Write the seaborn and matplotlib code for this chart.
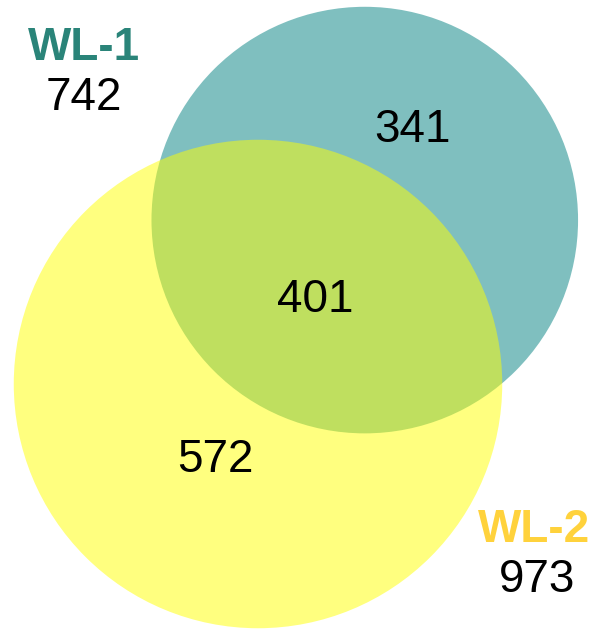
import numpy as np
import seaborn as sns
import matplotlib
import matplotlib.pyplot as plt
from matplotlib.patches import Circle
plt.switch_backend('agg')

set_names = ['WL-1', 'WL-2']
set_sizes = [742, 973]
shared = 401
set_colors = ['#008080', '#ffff00']
label_colors = ['#2a8479', '#ffd23c']


def lens_area(r1, r2, d):
    if d >= r1 + r2:
        return 0.0
    if d <= abs(r1 - r2):
        return np.pi * min(r1, r2) ** 2
    a1 = (d * d + r1 * r1 - r2 * r2) / (2 * d)
    a2 = d - a1
    s1 = r1 * r1 * np.arccos(a1 / r1) - a1 * np.sqrt(r1 * r1 - a1 * a1)
    s2 = r2 * r2 * np.arccos(a2 / r2) - a2 * np.sqrt(r2 * r2 - a2 * a2)
    return s1 + s2


def solve_distance(r1, r2, target):
    lo, hi = abs(r1 - r2), r1 + r2
    for _ in range(80):
        mid = (lo + hi) / 2
        if lens_area(r1, r2, mid) > target:
            lo = mid
        else:
            hi = mid
    return (lo + hi) / 2


def makeVenn(outputfile):
    sns.set_style('white')
    plt.rcParams['font.family'] = ['Liberation Sans', 'DejaVu Sans']
    plt.rcParams['text.color'] = 'black'

    # area proportional circles, in pixel units of the figure
    scale = 7.83
    radii = [scale * np.sqrt(n) for n in set_sizes]
    d = solve_distance(radii[0], radii[1], np.pi * scale ** 2 * shared)
    ang = np.arctan2(163.5, 106.5)
    c2 = np.array([258.0, 384.0])
    c1 = c2 + d * np.array([np.cos(ang), -np.sin(ang)])

    fig = plt.figure(figsize=(6, 6.3), dpi=100)
    ax = fig.add_axes([0, 0, 1, 1])
    ax.set_xlim(0, 600)
    ax.set_ylim(630, 0)
    ax.set_aspect('equal')
    ax.axis('off')

    ax.add_patch(Circle(c1, radii[0], facecolor=set_colors[0], alpha=0.5, lw=0))
    ax.add_patch(Circle(c2, radii[1], facecolor=set_colors[1], alpha=0.5, lw=0))

    only1 = set_sizes[0] - shared
    only2 = set_sizes[1] - shared
    fs = 33
    ax.text(413, 130, str(only1), fontsize=fs, ha='center', va='center')
    ax.text(315, 300, str(shared), fontsize=fs, ha='center', va='center')
    ax.text(215, 460, str(only2), fontsize=fs, ha='center', va='center')

    ax.text(84, 48, set_names[0], fontsize=fs, fontweight='bold',
            color=label_colors[0], ha='center', va='center')
    ax.text(84, 98, str(set_sizes[0]), fontsize=fs, ha='center', va='center')
    ax.text(534, 530, set_names[1], fontsize=fs, fontweight='bold',
            color=label_colors[1], ha='center', va='center')
    ax.text(537, 580, str(set_sizes[1]), fontsize=fs, ha='center', va='center')

    fig.savefig(outputfile, dpi=100)


if __name__ == '__main__':
    makeVenn('out.png')
